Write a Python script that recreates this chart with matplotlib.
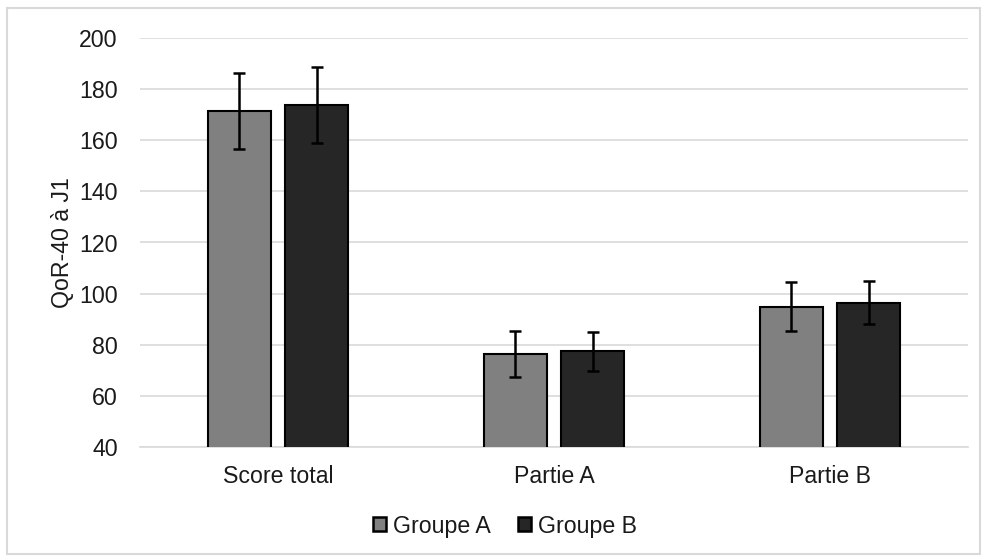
import matplotlib
matplotlib.use("Agg")
import matplotlib.pyplot as plt
import numpy as np
from matplotlib.patches import Rectangle

categories = ["Score total", "Partie A", "Partie B"]
groupe_a = [171.5, 76.4, 94.9]
groupe_a_err = [15.0, 9.1, 9.5]
groupe_b = [173.7, 77.4, 96.5]
groupe_b_err = [14.8, 7.5, 8.4]
series_names = ["Groupe A", "Groupe B"]
yticks = [40, 60, 80, 100, 120, 140, 160, 180, 200]

plt.rcParams['font.family'] = ['Liberation Sans', 'DejaVu Sans']
FS = 16.7
TXT = "#1a1a1a"

fig = plt.figure(figsize=(9.86, 5.57), dpi=100)
ax = fig.add_axes([140/986, 1 - 447/557, (968-140)/986, (447-38)/557])

x = np.arange(len(categories))
w = 0.228
off = 0.141
ekw = dict(ecolor="black", elinewidth=1.8, capsize=4, capthick=1.8)
ax.bar(x - off, groupe_a, w, color="#808080", edgecolor="black", linewidth=1.5,
       yerr=groupe_a_err, error_kw=ekw, label=series_names[0], zorder=3)
ax.bar(x + off, groupe_b, w, color="#262626", edgecolor="black", linewidth=1.5,
       yerr=groupe_b_err, error_kw=ekw, label=series_names[1], zorder=3)

ax.set_xlim(-0.5, len(categories) - 0.5)
ax.set_ylim(40, 200)
ax.set_yticks(yticks)
ax.set_xticks(x)
ax.set_xticklabels(categories)
ax.yaxis.grid(True, color="#d9d9d9", linewidth=1.2, zorder=0)
ax.set_axisbelow(True)
for s in ["top", "right", "left"]:
    ax.spines[s].set_visible(False)
ax.spines["bottom"].set_color("#d9d9d9")
ax.spines["bottom"].set_linewidth(1.2)
ax.tick_params(axis="both", length=0, labelsize=FS, colors=TXT)
ax.tick_params(axis="x", pad=13)
ax.tick_params(axis="y", pad=16)
ax.set_ylabel("QoR-40 à J1", fontsize=FS, color=TXT, labelpad=4)

leg = fig.legend(loc="center", bbox_to_anchor=(0.512, 1 - 526/557), ncol=2, frameon=False,
                 fontsize=FS, handlelength=0.55, handleheight=0.55, handletextpad=0.3,
                 columnspacing=1.2, borderpad=0)
for t in leg.get_texts():
    t.set_color(TXT)
for h in leg.legend_handles:
    h.set_linewidth(1.8)

fig.patches.append(Rectangle((7/986, 3/557), (980-7)/986, (549-3)/557, transform=fig.transFigure,
                             fill=False, edgecolor="#d9d9d9", linewidth=1.5))

fig.savefig("out.png", dpi=100)
